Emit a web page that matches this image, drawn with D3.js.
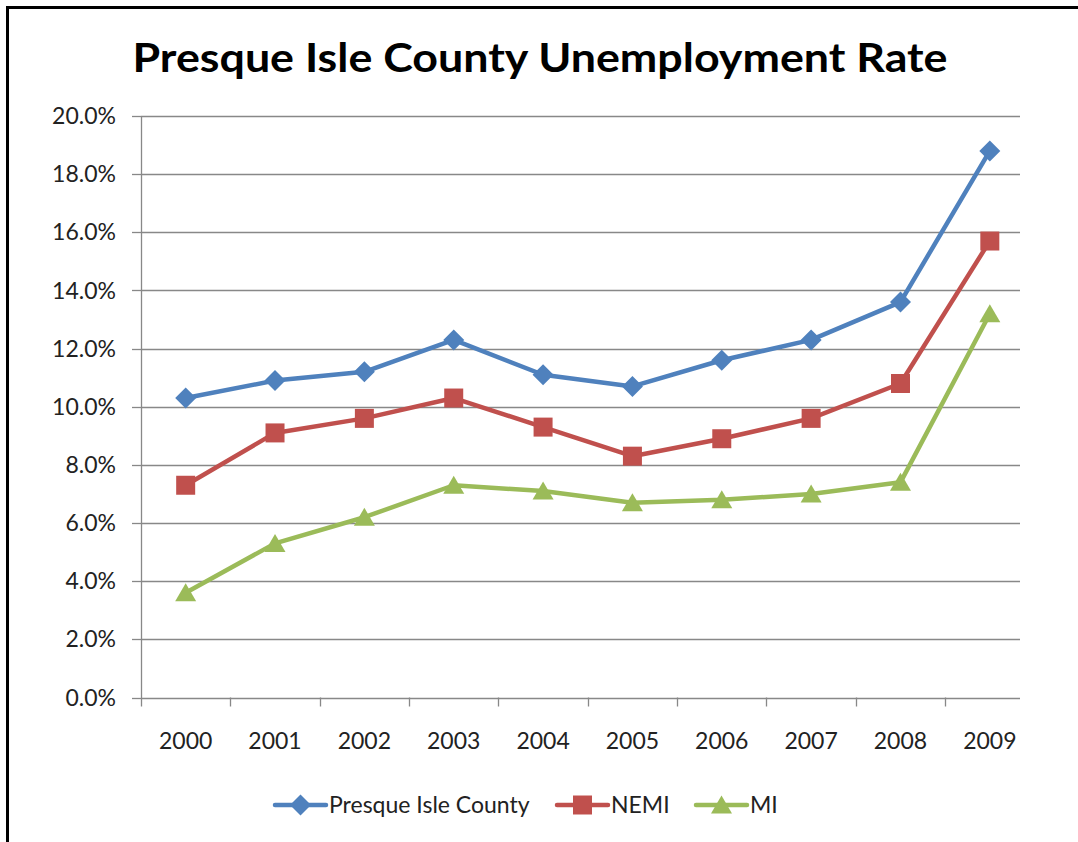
<!DOCTYPE html>
<html>
<head>
<meta charset="utf-8">
<script src="https://cdn.jsdelivr.net/npm/d3@7"></script>
<style>
  body { margin: 0; background: #fff; }
  svg { display: block; }
  text { font-family: Lato, "Open Sans", sans-serif; fill: #000; }
</style>
</head>
<body>
<svg id="chart" width="1078" height="842"></svg>
<script>
// data
var years = ['2000', '2001', '2002', '2003', '2004', '2005', '2006', '2007', '2008', '2009'];
var presqueIsle = [10.3, 10.9, 11.2, 12.3, 11.1, 10.7, 11.6, 12.3, 13.6, 18.8];
var nemi = [7.3, 9.1, 9.6, 10.3, 9.3, 8.3, 8.9, 9.6, 10.8, 15.7];
var mi = [3.6, 5.3, 6.2, 7.3, 7.1, 6.7, 6.8, 7.0, 7.4, 13.2];
var yTicks = [0, 2, 4, 6, 8, 10, 12, 14, 16, 18, 20];
var seriesNames = ['Presque Isle County', 'NEMI', 'MI'];

var series = [
  { name: seriesNames[0], values: presqueIsle, color: '#4F81BD', marker: 'diamond' },
  { name: seriesNames[1], values: nemi, color: '#C0504D', marker: 'square' },
  { name: seriesNames[2], values: mi, color: '#9BBB59', marker: 'triangle' }
];

var svg = d3.select('#chart');

// outer frame (cut off on right / bottom like the picture)
svg.append('rect')
  .attr('x', 7.5).attr('y', 7.5)
  .attr('width', 1090).attr('height', 860)
  .attr('fill', 'none').attr('stroke', '#000').attr('stroke-width', 3);

var plotLeft = 141, plotRight = 1020, plotTop = 116, plotBottom = 697.5;

var x = d3.scaleBand().domain(years).range([plotLeft, plotLeft + 10 * 89.35]);
var y = d3.scaleLinear().domain([0, 20]).range([plotBottom, plotTop]);
var gridColor = '#888888';

// title
svg.append('text')
  .attr('x', 540).attr('y', 72)
  .attr('text-anchor', 'middle')
  .style('font-size', '41px').style('font-weight', 'bold')
  .attr('textLength', 815).attr('lengthAdjust', 'spacingAndGlyphs')
  .text('Presque Isle County Unemployment Rate');

// horizontal gridlines
svg.append('g').selectAll('line').data(yTicks.slice(1)).join('line')
  .attr('x1', plotLeft).attr('x2', plotRight)
  .attr('y1', d => Math.round(y(d)) + 0.5).attr('y2', d => Math.round(y(d)) + 0.5)
  .attr('stroke', gridColor).attr('stroke-width', 1.3);

// y axis line + ticks + labels
var yAxis = svg.append('g');
yAxis.append('line')
  .attr('x1', plotLeft + 0.5).attr('x2', plotLeft + 0.5)
  .attr('y1', plotTop).attr('y2', plotBottom + 9)
  .attr('stroke', gridColor).attr('stroke-width', 1.3);
yAxis.selectAll('line.tick').data(yTicks).join('line')
  .attr('class', 'tick')
  .attr('x1', plotLeft - 9).attr('x2', plotLeft)
  .attr('y1', d => Math.round(y(d)) + 0.5).attr('y2', d => Math.round(y(d)) + 0.5)
  .attr('stroke', gridColor).attr('stroke-width', 1.3);
yAxis.selectAll('text').data(yTicks).join('text')
  .attr('x', 116).attr('y', d => y(d))
  .attr('dy', '0.35em')
  .attr('text-anchor', 'end')
  .style('font-size', '23px')
  .style('fill', '#222')
  .text(d => d3.format('.1f')(d) + '%');

// x axis line + category ticks + labels
var xAxis = svg.append('g');
xAxis.append('line')
  .attr('x1', plotLeft).attr('x2', plotRight)
  .attr('y1', Math.round(plotBottom) + 0.5).attr('y2', Math.round(plotBottom) + 0.5)
  .attr('stroke', gridColor).attr('stroke-width', 1.3);
xAxis.selectAll('line.tick').data(years.slice(1)).join('line')
  .attr('class', 'tick')
  .attr('x1', d => Math.round(x(d)) + 0.5).attr('x2', d => Math.round(x(d)) + 0.5)
  .attr('y1', plotBottom).attr('y2', plotBottom + 9)
  .attr('stroke', gridColor).attr('stroke-width', 1.3);
xAxis.selectAll('text').data(years).join('text')
  .attr('x', d => x(d) + x.bandwidth() / 2)
  .attr('y', 741).attr('dy', '0.35em')
  .attr('text-anchor', 'middle')
  .style('font-size', '23px')
  .style('fill', '#222')
  .text(d => d);

// marker shapes
function markerPath(kind) {
  if (kind === 'diamond') return 'M0,-10.5L10.5,0L0,10.5L-10.5,0Z';
  if (kind === 'square') return 'M-9.5,-9.5H9.5V9.5H-9.5Z';
  return 'M0,-9.5L10.5,8.5H-10.5Z';
}

var line = d3.line()
  .x((d, i) => x(years[i]) + x.bandwidth() / 2)
  .y(d => y(d));

series.forEach(function (s) {
  var g = svg.append('g');
  g.append('path')
    .attr('d', line(s.values))
    .attr('fill', 'none')
    .attr('stroke', s.color)
    .attr('stroke-width', 4.5)
    .attr('stroke-linejoin', 'round');
  g.selectAll('path.mk').data(s.values).join('path')
    .attr('class', 'mk')
    .attr('transform', (d, i) => 'translate(' + (x(years[i]) + x.bandwidth() / 2) + ',' + y(d) + ')')
    .attr('d', markerPath(s.marker))
    .attr('fill', s.color);
});

// legend
var legendItems = [
  { s: series[0], x0: 275 },
  { s: series[1], x0: 557 },
  { s: series[2], x0: 696 }
];
var legendY = 805;
legendItems.forEach(function (it) {
  var g = svg.append('g');
  g.append('line')
    .attr('x1', it.x0).attr('x2', it.x0 + 51)
    .attr('y1', legendY).attr('y2', legendY)
    .attr('stroke', it.s.color).attr('stroke-width', 4.5)
    .attr('stroke-linecap', 'round');
  g.append('path')
    .attr('transform', 'translate(' + (it.x0 + 25.5) + ',' + legendY + ')')
    .attr('d', markerPath(it.s.marker))
    .attr('fill', it.s.color);
  g.append('text')
    .attr('x', it.x0 + 54).attr('y', legendY).attr('dy', '0.35em')
    .style('font-size', '23px')
    .style('fill', '#222')
    .text(it.s.name);
});
</script>
</body>
</html>
